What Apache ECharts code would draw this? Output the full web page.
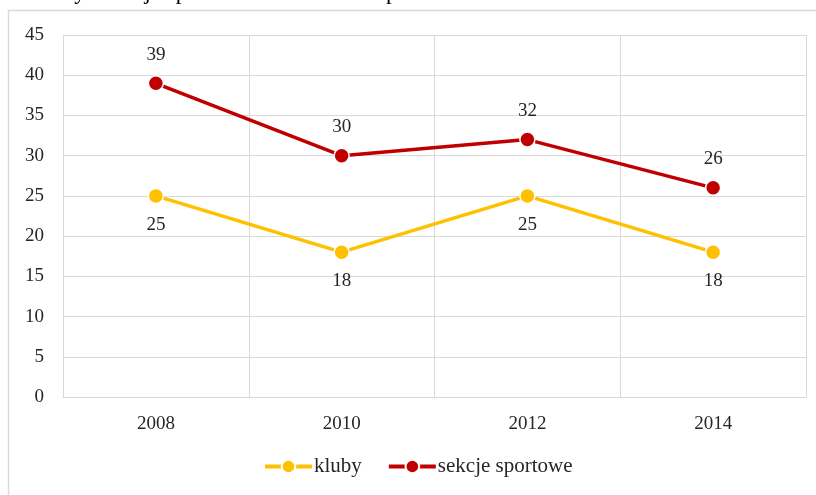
<!DOCTYPE html>
<html>
<head>
<meta charset="utf-8">
<script src="https://cdn.jsdelivr.net/npm/echarts@6/dist/echarts.min.js"></script>
<style>
  html, body { margin: 0; padding: 0; background: #fff; }
  #myChart { width: 816px; height: 495px; }
</style>
</head>
<body>
<div id="myChart"></div>
<script>
// dane z wykresu
const years = ['2008', '2010', '2012', '2014'];
const kluby = [25, 18, 25, 18];
const sekcje = [39, 30, 32, 26];
const yTicks = { min: 0, max: 45, interval: 5 };

const font = 'Liberation Serif';
const textColor = '#262626';

let myChart = echarts.init(document.getElementById('myChart'));

let option = {
  animation: false,
  textStyle: { fontFamily: font },
  graphic: [
    {
      // ramka wykresu (przycięta)
      type: 'rect',
      shape: { x: 8.5, y: 10.5, width: 900, height: 600 },
      style: { fill: 'none', stroke: '#d9d9d9', lineWidth: 1.5 }
    },
    {
      // tytuł obcięty u góry
      type: 'text',
      right: 356,
      top: -19,
      style: {
        text: 'Kluby i sekcje sportowe w Powiecie Opolskim',
        fontFamily: font,
        fontSize: 23,
        fill: '#000'
      }
    }
  ],
  grid: {
    left: 63,
    right: 10,
    top: 35,
    bottom: 98
  },
  legend: {
    bottom: 13,
    left: 258,
    itemWidth: 47,
    itemHeight: 17,
    itemGap: 25,
    lineStyle: { width: 4 },
    textStyle: { fontFamily: font, fontSize: 21, color: textColor, padding: [0, 0, 0, -3] },
    data: ['kluby', 'sekcje sportowe']
  },
  xAxis: {
    type: 'category',
    data: years,
    boundaryGap: true,
    axisLine: { lineStyle: { color: '#d9d9d9', width: 1 } },
    axisTick: { show: false },
    axisLabel: { fontFamily: font, fontSize: 19, color: textColor, margin: 18 },
    splitLine: { show: true, interval: 0, lineStyle: { color: '#d9d9d9', width: 1 } }
  },
  yAxis: {
    type: 'value',
    min: yTicks.min,
    max: yTicks.max,
    interval: yTicks.interval,
    axisLine: { show: false },
    axisTick: { show: false },
    axisLabel: { fontFamily: font, fontSize: 19, color: textColor, margin: 19 },
    splitLine: { lineStyle: { color: '#d9d9d9', width: 1 } }
  },
  series: [
    {
      name: 'kluby',
      type: 'line',
      data: kluby,
      symbol: 'circle',
      symbolSize: 15,
      itemStyle: { color: '#FFC000', borderColor: '#fff', borderWidth: 1.5 },
      lineStyle: { color: '#FFC000', width: 3.5 },
      label: {
        show: true,
        position: 'bottom',
        distance: 11,
        fontFamily: font,
        fontSize: 19,
        color: textColor
      }
    },
    {
      name: 'sekcje sportowe',
      type: 'line',
      data: sekcje,
      symbol: 'circle',
      symbolSize: 15,
      itemStyle: { color: '#C00000', borderColor: '#fff', borderWidth: 1.5 },
      lineStyle: { color: '#C00000', width: 3.5 },
      label: {
        show: true,
        position: 'top',
        distance: 11,
        fontFamily: font,
        fontSize: 19,
        color: textColor
      }
    }
  ]
};

myChart.setOption(option);
</script>
</body>
</html>
